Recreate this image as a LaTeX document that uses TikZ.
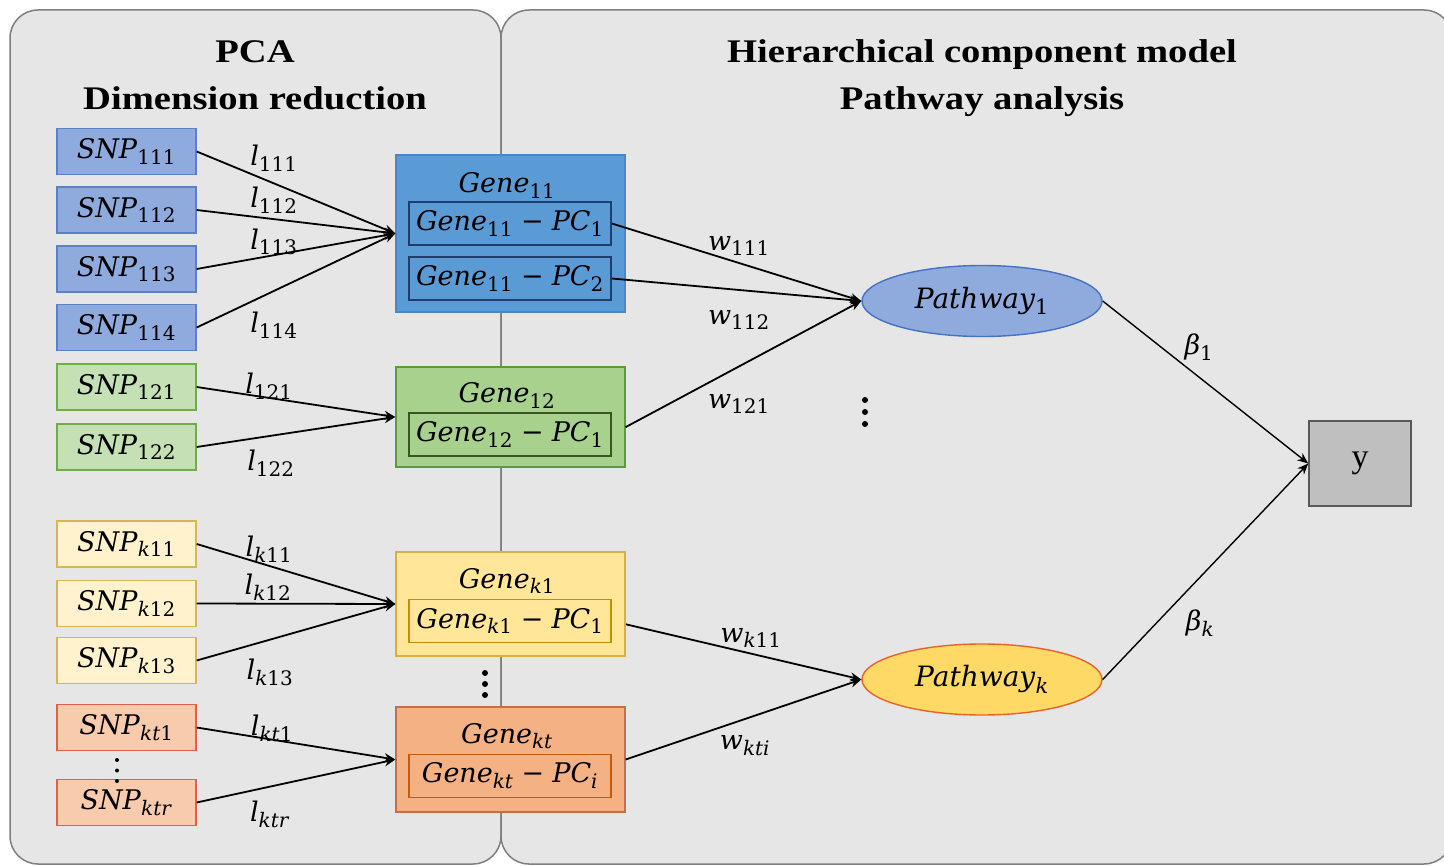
\RequirePackage{fix-cm}
\documentclass[tikz,border=0pt]{standalone}
\usepackage[no-math]{fontspec}
\setmainfont{Liberation Serif}
\newfontfamily\titlefont[FakeStretch=1.17]{Liberation Serif}
\newfontfamily\vf{DejaVu Serif}
\usetikzlibrary{arrows.meta,shapes.geometric,calc}
\DeclareMathSizes{27}{27}{20}{14}
\DeclareMathSizes{28}{28}{21}{15}
\newcommand\fsa{\vf\fontsize{27}{32}\selectfont}
\newcommand\fsb{\vf\fontsize{28}{33}\selectfont}
\newcommand\V[2]{\textit{#1}\textsubscript{#2}}
\newcommand\mn{\hspace{0.3em}\textup{−}\hspace{0.3em}}
\definecolor{panelfill}{HTML}{E7E6E6}
\definecolor{panelline}{HTML}{7F7F7F}
\definecolor{bluesnp}{HTML}{8FAADC}
\definecolor{bluesnpl}{HTML}{5A80C8}
\definecolor{bluegene}{HTML}{5B9BD5}
\definecolor{bluegenel}{HTML}{4A86C8}
\definecolor{bluepc}{HTML}{1F3E6E}
\definecolor{greensnp}{HTML}{C5E0B4}
\definecolor{greensnpl}{HTML}{70AD47}
\definecolor{greengene}{HTML}{A9D18E}
\definecolor{greengenel}{HTML}{5E9A3A}
\definecolor{greenpc}{HTML}{385723}
\definecolor{yelsnp}{HTML}{FFF2CC}
\definecolor{yelsnpl}{HTML}{D6B656}
\definecolor{yelgene}{HTML}{FFE699}
\definecolor{yelgenel}{HTML}{D6B040}
\definecolor{yelpc}{HTML}{BF9000}
\definecolor{orsnp}{HTML}{F8CBAD}
\definecolor{orsnpl}{HTML}{E0604A}
\definecolor{orgene}{HTML}{F4B183}
\definecolor{orgenel}{HTML}{C0704A}
\definecolor{orpc}{HTML}{C55A11}
\definecolor{pwblue}{HTML}{8FAADC}
\definecolor{pwbluel}{HTML}{4472C4}
\definecolor{pwyel}{HTML}{FFD966}
\definecolor{pwyell}{HTML}{E4642A}
\definecolor{yfill}{HTML}{BFBFBF}
\definecolor{yline}{HTML}{595959}
\begin{document}
\begin{tikzpicture}[x=1pt,y=-1pt,
 panel/.style={draw=panelline, fill=panelfill, line width=1.5pt, rounded corners=28pt},
 snpbox/.style={draw, line width=1.4pt, minimum width=139pt, minimum height=46pt, inner sep=0pt, font=\fsa},
 genebox/.style={draw, line width=1.4pt, minimum width=229pt, inner sep=0pt},
 pcbox/.style={draw, line width=1.6pt, minimum width=202pt, minimum height=43pt, inner sep=0pt, font=\fsa},
 lbl/.style={font=\fsa, inner sep=0pt},
 conn/.style={line width=1.8pt, -{Stealth[length=11pt,width=9pt]}},
 thinconn/.style={line width=1.4pt, -{Stealth[length=11pt,width=9pt]}},
 pway/.style={ellipse, draw, line width=1.4pt, minimum width=240pt, minimum height=71pt, inner sep=0pt, font=\fsb},
 ttl/.style={font=\titlefont\bfseries\fontsize{33}{40}\selectfont, anchor=base, inner sep=0pt},
 dotm/.style={circle, fill=black, inner sep=0pt, minimum size=#1}
]
\useasboundingbox (0,0) rectangle (1444,866);
\fill[white] (0,0) rectangle (1444,866);
\clip (0,0) rectangle (1444,866);
% panels
\draw[panel] (10,10) rectangle (501,864);
\draw[panel] (501,10) rectangle (1452,864);
% titles
\node[ttl] (t1) at (255,63) {PCA};
\node[ttl] (t2) at (255,110) {Dimension reduction};
\node[ttl] (t3) at (982,63) {Hierarchical component model};
\node[ttl] (t4) at (982,110) {Pathway analysis};
% SNP boxes
\node[snpbox, fill=bluesnp, draw=bluesnpl] (s111) at (126.5,151.5) {\V{SNP}{111}};
\node[snpbox, fill=bluesnp, draw=bluesnpl] (s112) at (126.5,210) {\V{SNP}{112}};
\node[snpbox, fill=bluesnp, draw=bluesnpl] (s113) at (126.5,269) {\V{SNP}{113}};
\node[snpbox, fill=bluesnp, draw=bluesnpl] (s114) at (126.5,327.5) {\V{SNP}{114}};
\node[snpbox, fill=greensnp, draw=greensnpl] (s121) at (126.5,387) {\V{SNP}{121}};
\node[snpbox, fill=greensnp, draw=greensnpl] (s122) at (126.5,447) {\V{SNP}{122}};
\node[snpbox, fill=yelsnp, draw=yelsnpl] (sk11) at (126.5,544) {\V{SNP}{\textit{k}11}};
\node[snpbox, fill=yelsnp, draw=yelsnpl] (sk12) at (126.5,603.5) {\V{SNP}{\textit{k}12}};
\node[snpbox, fill=yelsnp, draw=yelsnpl] (sk13) at (126.5,660.5) {\V{SNP}{\textit{k}13}};
\node[snpbox, fill=orsnp, draw=orsnpl] (skt1) at (126.5,727.5) {\V{SNP}{\textit{kt}1}};
\node[snpbox, fill=orsnp, draw=orsnpl] (sktr) at (126.5,802.5) {\V{SNP}{\textit{ktr}}};
% gene boxes
\node[genebox, fill=bluegene, draw=bluegenel, minimum height=157pt] (g11) at (510.5,233.5) {};
\node[genebox, fill=greengene, draw=greengenel, minimum height=100pt] (g12) at (510.5,417) {};
\node[genebox, fill=yelgene, draw=yelgenel, minimum height=104pt] (gk1) at (510.5,604) {};
\node[genebox, fill=orgene, draw=orgenel, minimum height=105pt] (gkt) at (510.5,759.5) {};
% gene titles
\node[lbl, anchor=base] (g11t) at (507,193) {\V{Gene}{11}};
\node[lbl, anchor=base] (g12t) at (507,403) {\V{Gene}{12}};
\node[lbl, anchor=base] (gk1t) at (507,588) {\V{Gene}{\textit{k}1}};
\node[lbl, anchor=base] (gktt) at (507,743) {\V{Gene}{\textit{kt}}};
% PC boxes
\node[pcbox, draw=bluepc] (g11a) at (510,223.5) {\V{Gene}{11}\mn\V{PC}{1}};
\node[pcbox, draw=bluepc] (g11b) at (510,278.5) {\V{Gene}{11}\mn\V{PC}{2}};
\node[pcbox, draw=greenpc] (g12a) at (510,434.5) {\V{Gene}{12}\mn\V{PC}{1}};
\node[pcbox, draw=yelpc] (gk1a) at (510,621) {\V{Gene}{\textit{k}1}\mn\V{PC}{1}};
\node[pcbox, draw=orpc] (gkta) at (510,776) {\V{Gene}{\textit{kt}}\mn\V{PC}{\textit{i}}};
% pathways and outcome
\node[pway, fill=pwblue, draw=pwbluel] (p1) at (982,301) {\V{Pathway}{1}};
\node[pway, fill=pwyel, draw=pwyell] (pk) at (982,679.5) {\V{Pathway}{\textit{k}}};
\node[draw=yline, fill=yfill, line width=1.5pt, minimum width=102pt, minimum height=85pt, inner sep=0pt, font=\fontsize{34}{40}\selectfont] (y) at (1360,463.5) {y};
% connectors SNP -> gene
\draw[conn] (s111.east) -- (g11.west);
\draw[conn] (s112.east) -- (g11.west);
\draw[conn] (s113.east) -- (g11.west);
\draw[conn] (s114.east) -- (g11.west);
\draw[conn] (s121.east) -- (g12.west);
\draw[conn] (s122.east) -- (g12.west);
\draw[conn] (sk11.east) -- (gk1.west);
\draw[conn] (sk12.east) -- (gk1.west);
\draw[conn] (sk13.east) -- (gk1.west);
\draw[conn] (skt1.east) -- (gkt.west);
\draw[conn] (sktr.east) -- (gkt.west);
% gene -> pathway
\draw[conn] (g11a.east) -- (p1.west);
\draw[conn] (g11b.east) -- (p1.west);
\draw[conn, shorten <=15.5pt] (g12a.east) -- (p1.west);
\draw[conn, shorten <=14.5pt] (gk1a.east) -- (pk.west);
\draw[conn] (gkt.east) -- (pk.west);
% pathway -> y
\draw[thinconn] (p1.east) -- (y.west);
\draw[thinconn] (pk.east) -- (y.west);
% loading labels
\node[lbl] (l111) at (274,158) {\V{l}{111}};
\node[lbl] (l112) at (274,200) {\V{l}{112}};
\node[lbl] (l113) at (274,242) {\V{l}{113}};
\node[lbl] (l114) at (274,325) {\V{l}{114}};
\node[lbl] (l121) at (269,386) {\V{l}{121}};
\node[lbl] (l122) at (271,463) {\V{l}{122}};
\node[lbl] (lk11) at (269,549) {\V{l}{\textit{k}11}};
\node[lbl] (lk12) at (268,587) {\V{l}{\textit{k}12}};
\node[lbl] (lk13) at (270,672) {\V{l}{\textit{k}13}};
\node[lbl] (lkt1) at (272,728) {\V{l}{\textit{kt}1}};
\node[lbl] (lktr) at (270,814) {\V{l}{\textit{ktr}}};
% weight labels
\node[lbl] (w111) at (739,246) {\V{w}{111}};
\node[lbl] (w112) at (739,320) {\V{w}{112}};
\node[lbl] (w121) at (739,404) {\V{w}{121}};
\node[lbl] (wk11) at (751,638) {\V{w}{\textit{k}11}};
\node[lbl] (wkti) at (745,746) {\V{w}{\textit{kti}}};
% beta labels
\node[lbl] (b1) at (1199,347) {\V{β}{1}};
\node[lbl] (bk) at (1200,623) {\V{β}{\textit{k}}};
% vertical dots
\node[dotm=6pt] (da1) at (865,400) {};
\node[dotm=6pt] (da2) at (865,412) {};
\node[dotm=6pt] (da3) at (865,424) {};
\node[dotm=6pt] (db1) at (485,673) {};
\node[dotm=6pt] (db2) at (485,684) {};
\node[dotm=6pt] (db3) at (485,695) {};
\node[dotm=4pt] (dc1) at (117,760) {};
\node[dotm=4pt] (dc2) at (117,770.5) {};
\node[dotm=4pt] (dc3) at (117,781) {};
\end{tikzpicture}
\end{document}
